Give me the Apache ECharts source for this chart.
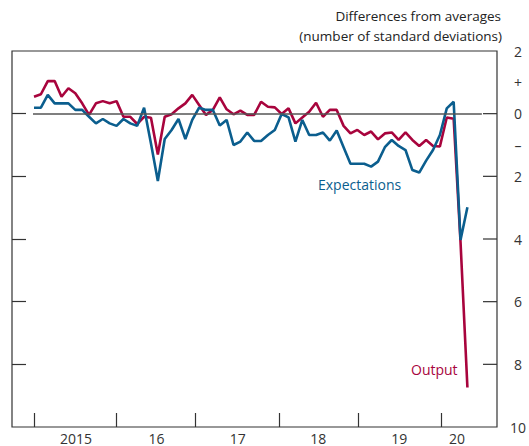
<!DOCTYPE html>
<html>
<head>
<meta charset="utf-8">
<script src="https://cdn.jsdelivr.net/npm/echarts@6/dist/echarts.min.js"></script>
<style>
  html, body { margin: 0; padding: 0; background: #fff; }
  #chart { width: 529px; height: 446px; }
</style>
</head>
<body>
<div id="chart"></div>
<script>
// months from Jan 2015, one point each
var output = [0.54, 0.62, 1.04, 1.04, 0.54, 0.81, 0.65, 0.33, -0.04, 0.33, 0.40, 0.33,
    0.40, -0.10, -0.10, -0.33, -0.10, -0.13, -1.30, -0.10, -0.02, 0.17, 0.33, 0.60,
    0.28, -0.04, 0.12, 0.52, 0.14, -0.02, 0.10, -0.04, -0.04, 0.38, 0.22, 0.20,
    -0.01, 0.17, -0.31, -0.12, 0.06, 0.35, -0.10, 0.12, 0.12, -0.39, -0.63, -0.52,
    -0.68, -0.57, -0.82, -0.63, -0.60, -0.84, -0.60, -0.84, -1.03, -0.84, -1.03, -1.05,
    -0.12, -0.16, -4.10, -8.74];
var expectations = [0.19, 0.19, 0.60, 0.33, 0.33, 0.33, 0.12, 0.12, -0.10, -0.31, -0.17, -0.31,
    -0.39, -0.17, -0.31, -0.39, 0.19, -0.95, -2.15, -0.81, -0.52, -0.17, -0.81, -0.20,
    0.19, 0.12, 0.12, -0.38, -0.20, -1.00, -0.89, -0.60, -0.87, -0.87, -0.68, -0.52,
    -0.01, -0.12, -0.89, -0.20, -0.68, -0.68, -0.60, -0.86, -0.54, -1.07, -1.60, -1.60,
    -1.60, -1.69, -1.53, -1.07, -0.84, -1.03, -1.16, -1.80, -1.88, -1.50, -1.16, -0.68,
    0.17, 0.38, -4.03, -2.99];

var yearLabels = ['2015', '16', '17', '18', '19', '20'];
var yearLabelPos = [6.1, 17.8, 29.6, 41.3, 53.1, 61.5];
var yearTickPos = [0, 11.9, 23.5, 35.6, 47.2, 59.2];

var yLabelValues = [2, 1, 0, -1, -2, -4, -6, -8, -10];
var yTickValues = [0, -2, -4, -6, -8];

var redColor = '#a8043d';
var blueColor = '#0b5e8e';
var font = '"Open Sans", "Noto Sans", sans-serif';

var xMin = -3.2, xMax = 67.3;

function pairs(arr) {
    return arr.map(function (v, i) { return [i, v]; });
}

var chart = echarts.init(document.getElementById('chart'), null, { renderer: 'svg' });

var option = {
    animation: false,
    textStyle: { fontFamily: font },
    grid: {
        show: true,
        left: 12, right: 32, top: 51, bottom: 19,
        borderColor: '#333',
        borderWidth: 1.2,
        backgroundColor: 'transparent'
    },
    xAxis: {
        type: 'value',
        min: xMin,
        max: xMax,
        axisLine: { show: false, onZero: false },
        splitLine: { show: false },
        axisTick: {
            show: true,
            inside: true,
            length: 14,
            customValues: yearTickPos,
            lineStyle: { color: '#333', width: 1.2 }
        },
        axisLabel: {
            customValues: yearLabelPos,
            margin: 4,
            fontSize: 14,
            color: '#333',
            fontFamily: font,
            formatter: function (v) {
                var best = 0;
                for (var k = 1; k < yearLabelPos.length; k++) {
                    if (Math.abs(yearLabelPos[k] - v) < Math.abs(yearLabelPos[best] - v)) best = k;
                }
                return yearLabels[best];
            }
        }
    },
    yAxis: [
        {
            type: 'value',
            position: 'left',
            min: -10,
            max: 2,
            interval: 1,
            axisLine: { show: false, onZero: false },
            splitLine: { show: false },
            axisLabel: { show: false },
            axisTick: {
                show: true,
                inside: true,
                length: 14,
                customValues: yTickValues,
                lineStyle: { color: '#333', width: 1.2 }
            }
        },
        {
            type: 'value',
            position: 'right',
            min: -10,
            max: 2,
            interval: 1,
            axisLine: { show: false, onZero: false },
            splitLine: { show: false },
            axisTick: { show: false },
            axisLabel: {
                customValues: yLabelValues,
                align: 'center',
                margin: 21,
                fontSize: 14,
                color: '#333',
                fontFamily: font,
                formatter: function (v) {
                    if (v === 1) return '+';
                    if (v === -1) return '\u2013';
                    return String(Math.abs(v));
                }
            }
        }
    ],
    graphic: [
        {
            id: 'title1', type: 'text', right: 28, top: 9,
            style: { text: 'Differences from averages', font: '13.5px ' + font, fill: '#222', textAlign: 'right' }
        },
        {
            id: 'title2', type: 'text', right: 27, top: 29,
            style: { text: '(number of standard deviations)', font: '13.5px ' + font, fill: '#222', textAlign: 'right' }
        },
        {
            id: 'labExp', type: 'text', left: 318, top: 177,
            style: { text: 'Expectations', font: '14px ' + font, fill: blueColor }
        },
        {
            id: 'labOut', type: 'text', left: 411, top: 362,
            style: { text: 'Output', font: '14px ' + font, fill: redColor }
        }
    ],
    series: [
        {
            name: 'zero',
            type: 'line',
            data: [],
            z: 1,
            silent: true,
            markLine: {
                symbol: 'none',
                silent: true,
                label: { show: false },
                lineStyle: { color: '#555', width: 1.5, type: 'solid' },
                data: [[{ coord: [-0.15, 0] }, { coord: [65.1, 0] }]]
            }
        },
        {
            name: 'Output',
            type: 'line',
            data: pairs(output),
            showSymbol: false,
            z: 3,
            lineStyle: { color: redColor, width: 2.6 },
            itemStyle: { color: redColor }
        },
        {
            name: 'Expectations',
            type: 'line',
            data: pairs(expectations),
            showSymbol: false,
            z: 4,
            lineStyle: { color: blueColor, width: 2.6 },
            itemStyle: { color: blueColor }
        }
    ]
};

chart.setOption(option);

// inward ticks on the right frame edge, placed through the y scale
var rightTicks = yTickValues.map(function (v, k) {
    var p = chart.convertToPixel({ gridIndex: 0 }, [xMax, v]);
    return {
        id: 'rtick' + k,
        type: 'line',
        z: 10,
        silent: true,
        shape: { x1: p[0] - 14, y1: p[1], x2: p[0], y2: p[1] },
        style: { stroke: '#333', lineWidth: 1.2 }
    };
});
chart.setOption({ graphic: rightTicks });
</script>
</body>
</html>
